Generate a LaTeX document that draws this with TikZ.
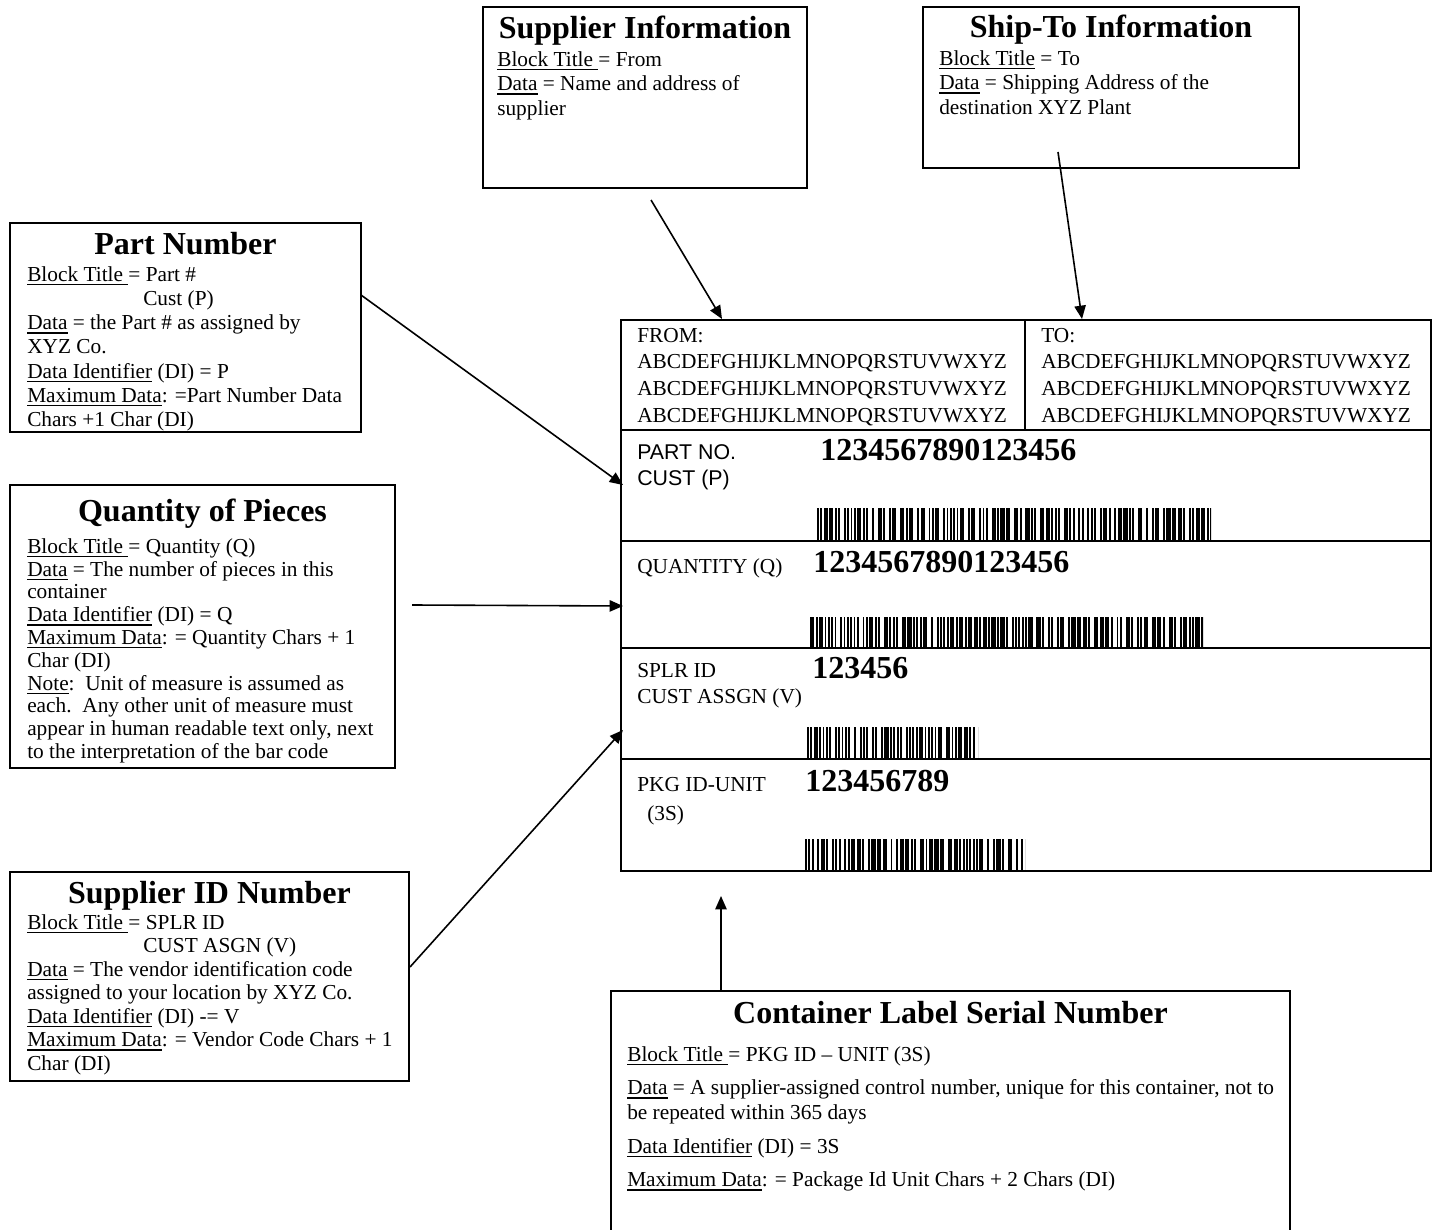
\documentclass[tikz,border=0pt]{standalone}
\usepackage{fontspec}
\setmainfont{Liberation Serif}
\newfontfamily\arialfont{Liberation Sans}
\usetikzlibrary{arrows.meta}
\newcommand\undl[1]{\setbox0=\hbox{#1}\leavevmode\rlap{\vrule width\wd0 height -1.9pt depth 2.9pt}\box0\relax}
\newcommand\firstln{\rule{0pt}{13.3pt}}
\newcommand\barcodebars[5]{%
  \pgfmathsetseed{#5}%
  \xdef\bcx{#1}%
  \pgfmathtruncatemacro\bcn{(#2-#1)/2.0}%
  \begin{scope}
    \clip (#1,#3) rectangle (#2,#4);
    \foreach \k in {0,...,\bcn}{%
      \pgfmathtruncatemacro\bcp{mod(\k,10)}%
      \pgfmathsetmacro\bcr{rnd}%
      \ifnum\bcp=9 \def\bcw{1.5}\else
        \ifodd\bcp
          \pgfmathsetmacro\bcw{\bcr<0.3 ? 3.8 : 1.4}%
        \else
          \pgfmathsetmacro\bcw{\bcr<0.3 ? 4.2 : 1.9}%
        \fi
      \fi
      \pgfmathsetmacro\bcxn{\bcx+\bcw}%
      \ifodd\bcp\else \fill (\bcx,#3) rectangle (\bcxn,#4);\fi
      \xdef\bcx{\bcxn}%
    }%
  \end{scope}}
\tikzset{
  box/.style={draw, line width=1.6pt, rectangle, inner sep=0pt, outer sep=0pt},
  ttl/.style={anchor=base, inner sep=0pt, font=\fontsize{24}{28}\selectfont\bfseries},
  body/.style={anchor=north west, inner sep=0pt, align=left, font=\fontsize{16}{18}\selectfont},
  lbltxt/.style={anchor=north west, inner sep=0pt, align=left, font=\fontsize{16}{20}\selectfont},
  lblone/.style={anchor=base west, inner sep=0pt, font=\fontsize{16}{20}\selectfont},
  bignum/.style={anchor=base west, inner sep=0pt, font=\fontsize{24}{28}\selectfont\bfseries},
  lblline/.style={line width=1.5pt},
  conn/.style={line width=1.2pt, -{Triangle[length=10pt,width=8.5pt]}}
}
\begin{document}
\begin{tikzpicture}[x=0.75pt,y=-0.75pt]
\useasboundingbox (0,0) rectangle (1439,1230);

% ---------- label ----------
\node[box, line width=1.5pt, minimum width=607.5pt, minimum height=413.25pt] (label) at (1026,595.5) {};
\draw[lblline] (1025,320) -- (1025,430);
\draw[lblline] (621,430) -- (1431,430);
\draw[lblline] (621,541) -- (1431,541);
\draw[lblline] (621,648) -- (1431,648);
\draw[lblline] (621,759) -- (1431,759);

\node[lbltxt] (from) at (637,324.3) {\firstln FROM:\\ABCDEFGHIJKLMNOPQRSTUVWXYZ\\ABCDEFGHIJKLMNOPQRSTUVWXYZ\\ABCDEFGHIJKLMNOPQRSTUVWXYZ};
\node[lbltxt] (to) at (1041,324.3) {\firstln TO:\\ABCDEFGHIJKLMNOPQRSTUVWXYZ\\ABCDEFGHIJKLMNOPQRSTUVWXYZ\\ABCDEFGHIJKLMNOPQRSTUVWXYZ};

\node[lbltxt, font=\fontsize{16}{20}\selectfont\arialfont] (partlbl) at (637,441.3) {\firstln PART NO.\\CUST (P)};
\node[bignum] (partnum) at (820,460) {1234567890123456};
\barcodebars{817}{1211}{508}{541}{11}

\node[lblone] (qtylbl) at (637,573) {QUANTITY (Q)};
\node[bignum] (qtynum) at (813,572) {1234567890123456};
\barcodebars{810}{1203}{617}{648}{23}

\node[lbltxt] (splrlbl) at (637,659.3) {\firstln SPLR ID\\CUST ASSGN (V)};
\node[bignum] (splrnum) at (812,678) {123456};
\barcodebars{807}{978}{727}{759}{37}

\node[lblone] (pkglbl) at (637,791) {PKG ID-UNIT};
\node[lblone] (pkglbl2) at (647,820) {(3S)};
\node[bignum] (pkgnum) at (805,791) {123456789};
\barcodebars{805}{1025}{839}{871}{53}

% ---------- Supplier Information ----------
\node[box, minimum width=243pt, minimum height=135.75pt] (sup) at (645,97.5) {};
\node[ttl] (supT) at (645,39) {Supplier Information};
\node[body, font=\fontsize{16}{18.4}\selectfont] (supB) at (497,48.3) {\firstln\undl{Block Title\ }= From\\\undl{Data} = Name and address of\\supplier};

% ---------- Ship-To Information ----------
\node[box, minimum width=282pt, minimum height=120.75pt] (shp) at (1111,87.5) {};
\node[ttl] (shpT) at (1111,38) {Ship-To Information};
\node[body, font=\fontsize{16}{18.4}\selectfont] (shpB) at (939,47.3) {\firstln\undl{Block Title} = To\\\undl{Data} = Shipping Address of the\\destination XYZ Plant};

% ---------- Part Number ----------
\node[box, minimum width=263.25pt, minimum height=156.75pt] (prt) at (185.5,327.5) {};
\node[ttl] (prtT) at (185.5,255) {Part Number};
\node[body, font=\fontsize{16}{18.15}\selectfont] (prtB) at (27,263.3) {\firstln\undl{Block Title\ }= Part \#\\\hspace*{87pt}Cust (P)\\\undl{Data} = the Part \# as assigned by\\XYZ Co.\\\undl{Data Identifier} (DI) = P\\\undl{Maximum Data}: =Part Number Data\\Chars +1 Char (DI)};

% ---------- Quantity of Pieces ----------
\node[box, minimum width=288.75pt, minimum height=212.25pt] (qty) at (202.5,626.5) {};
\node[ttl] (qtyT) at (202.5,522) {Quantity of Pieces};
\node[body, font=\fontsize{16}{17.1}\selectfont] (qtyB) at (27,535.3) {\firstln\undl{Block Title\ }= Quantity (Q)\\\undl{Data} = The number of pieces in this\\container\\\undl{Data Identifier} (DI) = Q\\\undl{Maximum Data}: = Quantity Chars + 1\\Char (DI)\\\undl{Note}:\ \ Unit of measure is assumed as\\each.\ \ Any other unit of measure must\\appear in human readable text only, next\\to the interpretation of the bar code};

% ---------- Supplier ID Number ----------
\node[box, minimum width=299.25pt, minimum height=156.75pt] (sid) at (209.5,976.5) {};
\node[ttl] (sidT) at (209.5,903) {Supplier ID Number};
\node[body, font=\fontsize{16}{17.6}\selectfont] (sidB) at (27,911.3) {\firstln\undl{Block Title\ }= SPLR ID\\\hspace*{87pt}CUST ASGN (V)\\\undl{Data} = The vendor identification code\\assigned to your location by XYZ Co.\\\undl{Data Identifier} (DI) -= V\\\undl{Maximum Data}: = Vendor Code Chars + 1\\Char (DI)};

% ---------- Container Label Serial Number ----------
\node[box, minimum width=509.25pt, minimum height=186.75pt] (cnt) at (950.5,1115.5) {};
\node[ttl] (cntT) at (950.5,1023) {Container Label Serial Number};
\node[body, font=\fontsize{16}{19}\selectfont] (cntB) at (627,1043.3) {\firstln\undl{Block Title\ }= PKG ID – UNIT (3S)\\[6pt]\undl{Data} = A supplier-assigned control number, unique for this container, not to\\be repeated within 365 days\\[6pt]\undl{Data Identifier} (DI) = 3S\\[6pt]\undl{Maximum Data}: = Package Id Unit Chars + 2 Chars (DI)};

% ---------- connectors ----------
\coordinate (a1s) at (651,200);  \coordinate (a1e) at (722,319);
\coordinate (a2s) at (1058,152); \coordinate (a2e) at (1082,319);
\coordinate (a3s) at (361,295);  \coordinate (a3e) at (623,485);
\coordinate (a4s) at (412,605);  \coordinate (a4e) at (623,606);
\coordinate (a5s) at (410,967);  \coordinate (a5e) at (623,730);
\coordinate (a6s) at (721,991);  \coordinate (a6e) at (721,896);
\draw[conn] (a1s) -- (a1e);
\draw[conn] (a2s) -- (a2e);
\draw[conn] (a3s) -- (a3e);
\draw[conn] (a4s) -- (a4e);
\draw[conn] (a5s) -- (a5e);
\draw[conn] (a6s) -- (a6e);
\end{tikzpicture}
\end{document}
